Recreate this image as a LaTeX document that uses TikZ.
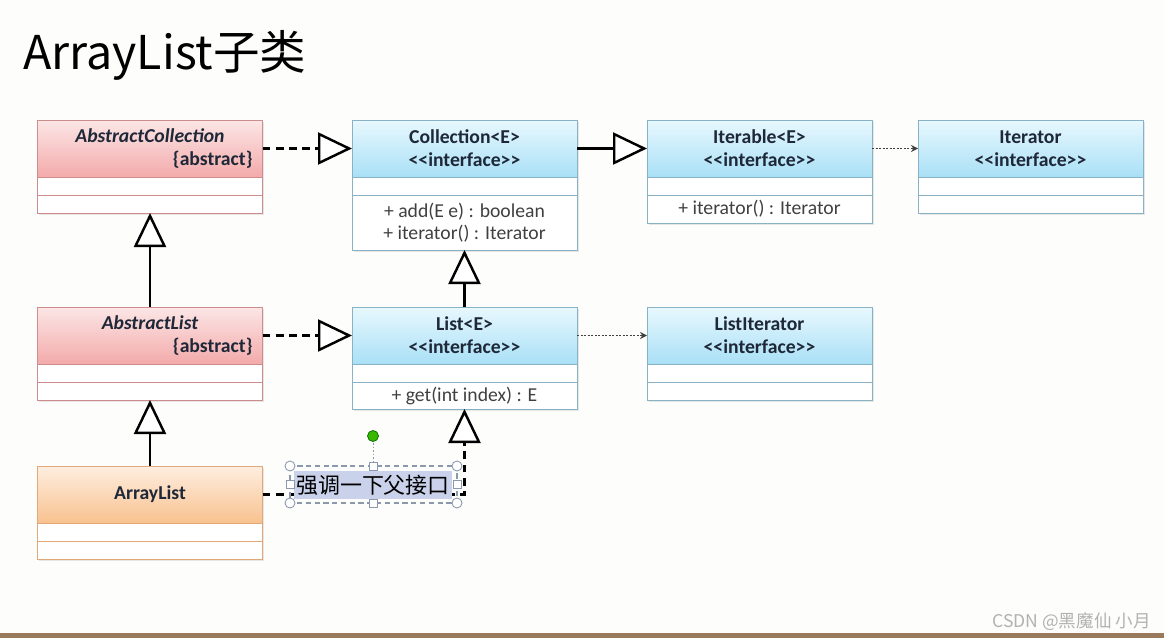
\documentclass[tikz,border=0pt]{standalone}
\usepackage{fontspec}
\setmainfont{Carlito}
\newfontfamily\cjk{Noto Sans CJK SC}
\usetikzlibrary{arrows.meta,positioning,shadows}

\definecolor{abstop}{HTML}{FCE6E6}
\definecolor{absbot}{HTML}{F3AAAA}
\definecolor{absline}{HTML}{CF8C8C}
\definecolor{inttop}{HTML}{E8F8FE}
\definecolor{intbot}{HTML}{A9E0F6}
\definecolor{intline}{HTML}{8AB2C6}
\definecolor{imptop}{HTML}{FEEEE0}
\definecolor{impbot}{HTML}{F8C28F}
\definecolor{impline}{HTML}{E3A878}
\definecolor{inktext}{HTML}{1E2838}
\definecolor{selblue}{HTML}{C9D2EA}
\definecolor{selline}{HTML}{8C98AC}
\definecolor{paper}{HTML}{FDFDFC}
\definecolor{frame}{HTML}{9A7A5C}

\newcommand{\stereo}{<{}<interface>{}>}

\begin{document}
\begin{tikzpicture}[
		head/.style={rectangle, draw, outer sep=0pt, minimum width=4.5cm, minimum height=1.14cm, text width=4.1cm, inner xsep=0.2cm, align=center, font=\bfseries\fontsize{11.2}{13}\selectfont, text=inktext, anchor=north, drop shadow={opacity=0.18, shadow xshift=1pt, shadow yshift=-1pt}},
		abs/.style={head, draw=absline, top color=abstop, bottom color=absbot},
		intf/.style={head, draw=intline, top color=inttop, bottom color=intbot},
		impl/.style={head, draw=impline, top color=imptop, bottom color=impbot},
		slot/.style={rectangle, draw, fill=white, outer sep=0pt, minimum width=4.5cm, minimum height=0.36cm, inner sep=0pt, align=center, font=\fontsize{11.2}{12.6}\selectfont, text=black!75, drop shadow={opacity=0.18, shadow xshift=1pt, shadow yshift=-1pt}},
		realize/.style={line width=1.6pt, dash pattern=on 4.5pt off 3pt, -{Triangle[fill=white, length=0.68cm, width=0.64cm, line width=1.4pt]}},
		extend/.style={line width=1.6pt, -{Triangle[fill=white, length=0.68cm, width=0.64cm, line width=1.4pt]}},
		depend/.style={line width=0.6pt, black!75, dash pattern=on 1.2pt off 0.8pt, -{Stealth[length=4pt, width=4pt]}},
		handle/.style={draw=selline, fill=white, line width=0.5pt}
		]
		
		% page
		\fill[paper] (0,0) rectangle (23.28,-12.76);
		\fill[frame] (0,-12.66) rectangle (23.28,-12.76);
		\useasboundingbox (0,0) rectangle (23.28,-12.76);
		
		\node (title) at (0.34,-1.40) [anchor=base west, font=\cjk\fontsize{26.5}{32}\selectfont] {ArrayList子类};
		
		% classes
		\node (acoll) at (3.0,-2.4) [abs] {\textit{AbstractCollection}\\\mbox{}\hfill\{abstract\}};
		\node (acoll-a) [slot, draw=absline, below=0pt of acoll] {};
		\node (acoll-m) [slot, draw=absline, below=0pt of acoll-a] {};
		
		\node (coll) at (9.29,-2.4) [intf] {Collection<E>\\\stereo};
		\node (coll-a) [slot, draw=intline, below=0pt of coll] {};
		\node (coll-m) [slot, draw=intline, minimum height=1.1cm, below=0pt of coll-a] {+ add(E e) : boolean\\+ iterator() : Iterator};
		
		\node (iter) at (15.19,-2.4) [intf] {Iterable<E>\\\stereo};
		\node (iter-a) [slot, draw=intline, below=0pt of iter] {};
		\node (iter-m) [slot, draw=intline, minimum height=0.56cm, below=0pt of iter-a] {+ iterator() : Iterator};
		
		\node (itor) at (20.61,-2.4) [intf] {Iterator\\\stereo};
		\node (itor-a) [slot, draw=intline, below=0pt of itor] {};
		\node (itor-m) [slot, draw=intline, below=0pt of itor-a] {};
		
		\node (alist) at (3.0,-6.14) [abs] {\textit{AbstractList}\\\mbox{}\hfill\{abstract\}};
		\node (alist-a) [slot, draw=absline, below=0pt of alist] {};
		\node (alist-m) [slot, draw=absline, below=0pt of alist-a] {};
		
		\node (list) at (9.29,-6.14) [intf] {List<E>\\\stereo};
		\node (list-a) [slot, draw=intline, below=0pt of list] {};
		\node (list-m) [slot, draw=intline, minimum height=0.54cm, below=0pt of list-a] {+ get(int index) : E};
		
		\node (litor) at (15.19,-6.14) [intf] {ListIterator\\\stereo};
		\node (litor-a) [slot, draw=intline, below=0pt of litor] {};
		\node (litor-m) [slot, draw=intline, below=0pt of litor-a] {};
		
		\node (arr) at (3.0,-9.32) [impl] {ArrayList};
		\node (arr-a) [slot, draw=impline, below=0pt of arr] {};
		\node (arr-m) [slot, draw=impline, below=0pt of arr-a] {};
		
		% relations
		\draw [realize] (acoll.east) -- (coll.west);
		\draw [extend] (coll.east) -- (iter.west);
		\draw [depend] (iter.east) -- (itor.west);
		\draw [extend] (alist.north) -- (acoll-m.south);
		\draw [realize] (alist.east) -- (list.west);
		\draw [extend] (list.north) -- (coll-m.south);
		\draw [depend] (list.east) -- (litor.west);
		\draw [extend] (arr.north) -- (alist-m.south);
		\draw [realize] (arr.east) -| (list-m.south);
		
		% selected text box
		\node (note) at (7.46,-9.70) [fill=selblue, inner xsep=1pt, inner ysep=2pt, font=\cjk\fontsize{12.5}{14}\selectfont] {强调一下父接口};
		\draw [selline, line width=0.6pt, dash pattern=on 3pt off 2pt] (5.8,-9.32) rectangle (9.14,-10.06);
		\draw [selline, line width=0.5pt, dash pattern=on 1pt off 1pt] (7.46,-8.72) -- (7.46,-9.32);
		\fill [green!60!black!70!lime, draw=green!40!black] (7.46,-8.72) circle (0.11);
		\draw [handle] (5.8,-9.32) circle (0.1);
		\draw [handle] (9.14,-9.32) circle (0.1);
		\draw [handle] (5.8,-10.06) circle (0.1);
		\draw [handle] (9.14,-10.06) circle (0.1);
		\draw [handle] (7.38,-9.40) rectangle (7.54,-9.24);
		\draw [handle] (7.38,-10.14) rectangle (7.54,-9.98);
		\draw [handle] (5.72,-9.77) rectangle (5.88,-9.61);
		\draw [handle] (9.06,-9.77) rectangle (9.22,-9.61);
		
		\node (mark) at (23.14,-12.44) [anchor=east, text=black!30, font=\cjk\fontsize{10}{12}\selectfont] {CSDN @黑魔仙 小月};
	\end{tikzpicture}
\end{document}
